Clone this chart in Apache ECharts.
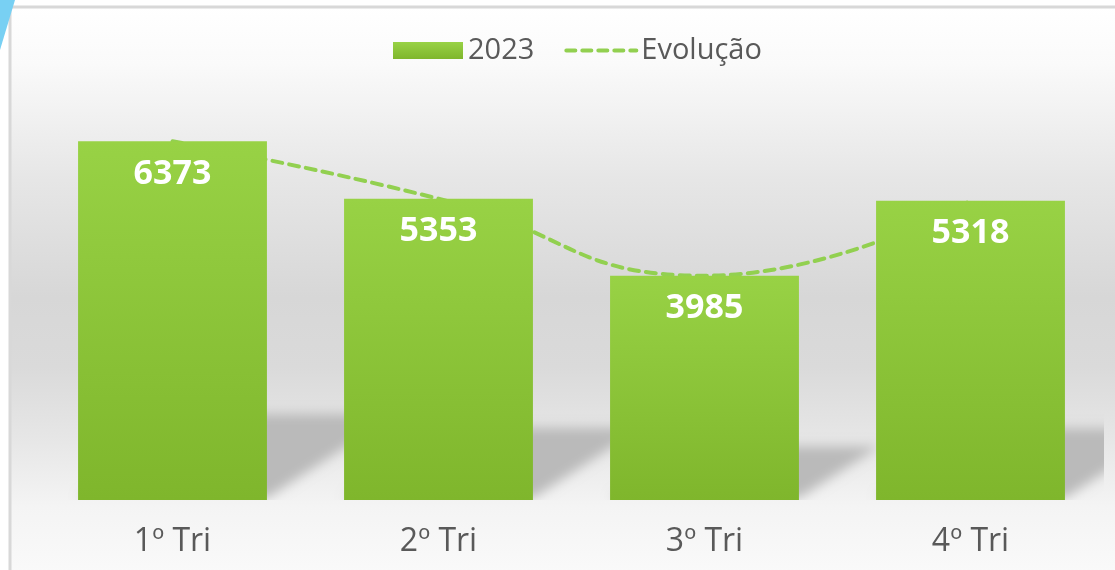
<!DOCTYPE html>
<html>
<head>
<meta charset="utf-8">
<script src="https://cdn.jsdelivr.net/npm/echarts@6/dist/echarts.min.js"></script>
<style>
  html, body { margin: 0; padding: 0; background: #fff; }
  #main { width: 1115px; height: 570px; }
</style>
</head>
<body>
<div id="main"></div>
<script>
const categories = ["1º Tri", "2º Tri", "3º Tri", "4º Tri"]
const values2023 = [6373, 5353, 3985, 5318]
const seriesNames = ["2023", "Evolução"]

const chart = echarts.init(document.getElementById("main"))

const textColor = "#595959"
const fontFamily = "'Open Sans', 'Noto Sans', sans-serif"
const SHIFT = 3000

// floor shadow behind each bar, built from the bar value through the axes.
// the shape itself is drawn off screen, only its blurred shadow shows up
const renderShadow = (params, api) => {
  const idx = api.value(0)
  const base = api.coord([idx, 0])
  const top = api.coord([idx, api.value(1)])
  const w = api.size([1, 0])[0] * 0.71
  const xl = base[0] - w / 2 - SHIFT
  const xr = base[0] + w / 2 - SHIFT
  const h = (base[1] - top[1]) * 0.24
  const dx = h * 1.5
  return {
    type: "polygon",
    shape: {
      points: [
        [xl, base[1] - 2],
        [xr, base[1] - 2],
        [xr + dx, base[1] - h],
        [xl + dx, base[1] - h],
      ],
    },
    style: {
      fill: "#bcbcbc",
      shadowBlur: 12,
      shadowColor: "#bababa",
      shadowOffsetX: SHIFT,
    },
  }
}

const option = {
  animation: false,
  textStyle: { fontFamily },
  graphic: [
    {
      type: "rect",
      z: -10,
      silent: true,
      shape: { x: 10, y: 7, width: 1120, height: 580 },
      style: {
        fill: new echarts.graphic.LinearGradient(0, 0, 0, 1, [
          { offset: 0, color: "#ffffff" },
          { offset: 0.1, color: "#fafafa" },
          { offset: 0.3, color: "#e6e6e6" },
          { offset: 0.5, color: "#d7d7d7" },
          { offset: 0.62, color: "#dadada" },
          { offset: 0.74, color: "#e6e6e6" },
          { offset: 0.86, color: "#f4f4f4" },
          { offset: 1, color: "#fbfbfb" },
        ]),
        stroke: "#d8d8d8",
        lineWidth: 3,
      },
    },
    {
      type: "polygon",
      z: -5,
      silent: true,
      shape: { points: [[0, 0], [15, 0], [0, 50]] },
      style: { fill: "#78d0f3" },
    },
  ],
  legend: {
    top: 31,
    left: 388,
    itemWidth: 70,
    itemHeight: 17,
    itemGap: 30,
    textStyle: { color: textColor, fontSize: 29, fontFamily },
    data: [
      { name: seriesNames[0], icon: "rect" },
      {
        name: seriesNames[1],
        itemStyle: { opacity: 0 },
        lineStyle: { width: 4, type: [9, 7], cap: "round", color: "#92d050" },
      },
    ],
  },
  grid: {
    left: 39.5,
    right: 11.5,
    top: 106,
    bottom: 70,
  },
  xAxis: {
    type: "category",
    data: categories,
    axisLine: { show: false },
    axisTick: { show: false },
    axisLabel: {
      color: textColor,
      fontSize: 32,
      margin: 26,
      fontFamily,
    },
  },
  yAxis: {
    type: "value",
    min: 0,
    max: 7000,
    show: false,
    splitLine: { show: false },
  },
  series: [
    {
      type: "custom",
      name: "shadow",
      renderItem: renderShadow,
      data: values2023.map((v, i) => [i, v]),
      encode: { x: 0, y: 1 },
      z: 1,
      silent: true,
      clip: true,
    },
    {
      name: seriesNames[1],
      type: "line",
      data: values2023,
      smooth: 0.5,
      symbol: "none",
      z: 2,
      lineStyle: {
        color: "#92d050",
        width: 4,
        type: [10, 7],
        cap: "round",
      },
      itemStyle: { color: "#92d050" },
    },
    {
      name: seriesNames[0],
      type: "bar",
      data: values2023,
      barCategoryGap: "29%",
      z: 3,
      itemStyle: {
        color: new echarts.graphic.LinearGradient(0, 0, 0, 1, [
          { offset: 0, color: "#98d245" },
          { offset: 1, color: "#7fb62c" },
        ]),
      },
      label: {
        show: true,
        position: "insideTop",
        distance: 16,
        color: "#ffffff",
        fontSize: 34,
        fontWeight: "bold",
        fontFamily,
      },
    },
  ],
}

chart.setOption(option)
</script>
</body>
</html>
